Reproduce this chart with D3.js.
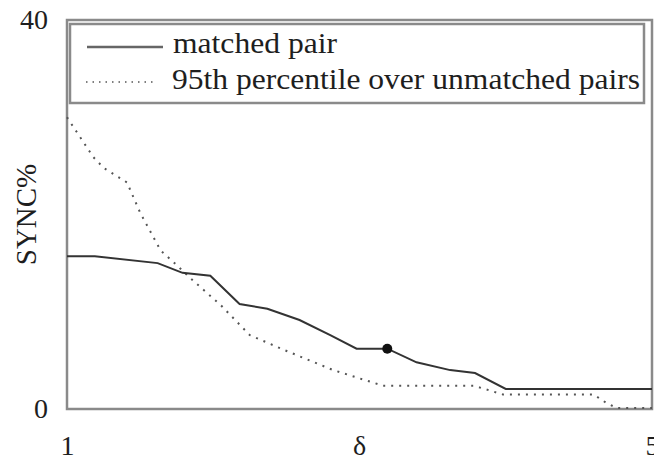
<!DOCTYPE html>
<html>
<head>
<meta charset="utf-8">
<script src="https://cdn.jsdelivr.net/npm/d3@7"></script>
<style>
  html, body { margin: 0; padding: 0; background: #fff; }
  svg { display: block; }
  svg text { font-family: "Liberation Serif", "DejaVu Serif", serif; }
</style>
</head>
<body>
<svg id="chart" width="654" height="461"></svg>
<script>
// SYNC% against delta for the matched pair and the 95th percentile of unmatched pairs
const deltaMatched = [1.0, 1.19, 1.62, 1.79, 1.98, 2.18, 2.37, 2.59, 2.8, 2.98, 3.19, 3.39, 3.62, 3.79, 4.0, 5.0];
const syncMatched  = [15.7, 15.7, 15.0, 14.0, 13.7, 10.8, 10.3, 9.15, 7.6, 6.2, 6.2, 4.8, 4.0, 3.7, 2.06, 2.06];

const deltaUnmatched = [1.0, 1.18, 1.25, 1.41, 1.5, 1.64, 1.75, 1.84, 2.05, 2.25, 2.48, 2.82, 3.16, 3.78, 3.98, 4.6, 4.69, 4.76, 5.0];
const syncUnmatched  = [30.0, 25.9, 24.8, 23.3, 20.2, 16.3, 14.8, 13.5, 10.7, 7.6, 6.1, 4.0, 2.4, 2.4, 1.5, 1.5, 0.6, 0.1, 0.1];

// highlighted point on the matched curve
const markedDelta = [3.19];
const markedSync  = [6.2];

const xTicks = [1, 5];
const yTicks = [0, 40];
const legendLabels = ["matched pair", "95th percentile over unmatched pairs"];

const svg = d3.select("#chart");
const plotLeft = 67, plotRight = 652, plotTop = 20, plotBottom = 409;
const serif = "Liberation Serif, DejaVu Serif, serif";
const textColor = "#1e1e1e";

const x = d3.scaleLinear().domain([1, 5]).range([plotLeft, plotRight]);
const y = d3.scaleLinear().domain([0, 40]).range([plotBottom, plotTop]);

const frameColor = "#8a8a8a";

// plot frame
svg.append("rect")
  .attr("x", plotLeft).attr("y", plotTop)
  .attr("width", plotRight - plotLeft).attr("height", plotBottom - plotTop)
  .attr("fill", "none").attr("stroke", frameColor).attr("stroke-width", 2.5);

// axes with labels only
const xAxis = d3.axisBottom(x).tickValues(xTicks).tickSize(0).tickPadding(26).tickFormat(d3.format("d"));
const yAxis = d3.axisLeft(y).tickValues(yTicks).tickSize(0).tickPadding(19).tickFormat(d3.format("d"));

const gx = svg.append("g").attr("transform", `translate(0,${plotBottom})`).call(xAxis);
const gy = svg.append("g").attr("transform", `translate(${plotLeft},0)`).call(yAxis);
[gx, gy].forEach(g => {
  g.attr("font-family", serif);
  g.select(".domain").remove();
  g.selectAll("text").attr("font-size", 28).attr("fill", textColor);
});

svg.append("text")
  .attr("x", x(3)).attr("y", plotBottom + 46)
  .attr("text-anchor", "middle").attr("font-size", 28).attr("fill", textColor)
  .text("δ");

svg.append("text")
  .attr("transform", `translate(36,${(plotTop + plotBottom) / 2}) rotate(-90)`)
  .attr("text-anchor", "middle").attr("font-size", 29).attr("fill", textColor)
  .text("SYNC%");

const line = d3.line().x(d => x(d[0])).y(d => y(d[1]));

const matched = deltaMatched.map((d, i) => [d, syncMatched[i]]);
const unmatched = deltaUnmatched.map((d, i) => [d, syncUnmatched[i]]);

svg.append("path").datum(unmatched)
  .attr("d", line).attr("fill", "none")
  .attr("stroke", "#555").attr("stroke-width", 2)
  .attr("stroke-dasharray", "2,6");

svg.append("path").datum(matched)
  .attr("d", line).attr("fill", "none")
  .attr("stroke", "#333").attr("stroke-width", 2);

svg.selectAll(".mark").data(markedDelta).enter().append("circle")
  .attr("cx", d => x(d)).attr("cy", (d, i) => y(markedSync[i]))
  .attr("r", 5).attr("fill", "#111");

// legend
const lg = svg.append("g");
lg.append("rect")
  .attr("x", 70).attr("y", 24).attr("width", 574).attr("height", 79)
  .attr("fill", "#fff").attr("stroke", frameColor).attr("stroke-width", 2.5);

lg.append("line").attr("x1", 87).attr("x2", 163).attr("y1", 47).attr("y2", 47)
  .attr("stroke", "#666").attr("stroke-width", 2.5);
lg.append("line").attr("x1", 86).attr("x2", 156).attr("y1", 82).attr("y2", 82)
  .attr("stroke", "#555").attr("stroke-width", 1.5).attr("stroke-dasharray", "1.5,5");

const legendX = [173, 172];
const legendW = [164, 468];
lg.selectAll(".lt").data(legendLabels).enter().append("text")
  .attr("x", (d, i) => legendX[i]).attr("y", (d, i) => 53 + i * 36)
  .attr("font-size", 30).attr("fill", textColor)
  .attr("textLength", (d, i) => legendW[i]).attr("lengthAdjust", "spacingAndGlyphs")
  .text(d => d);
</script>
</body>
</html>
